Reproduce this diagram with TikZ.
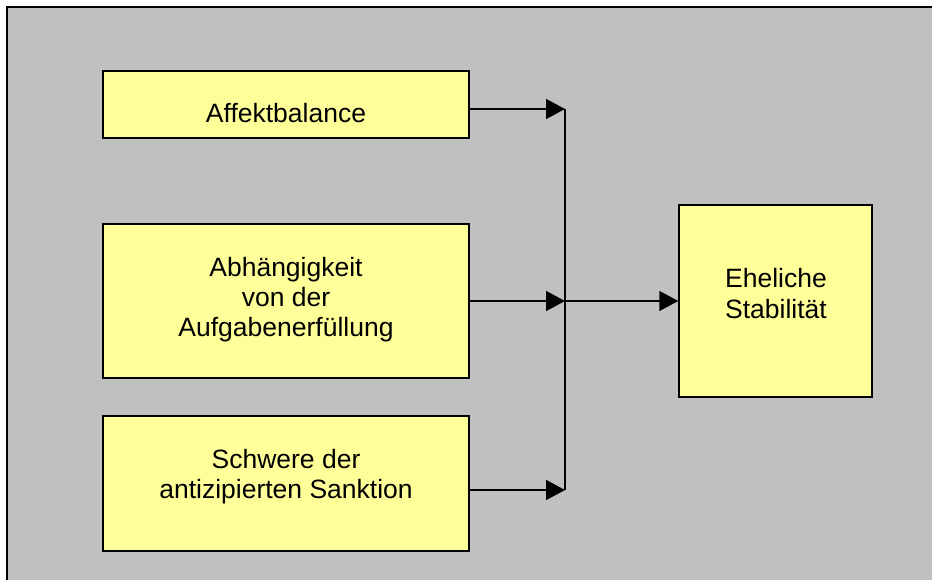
\documentclass[tikz,border=0pt]{standalone}
\usepackage{fontspec}
\setmainfont{Liberation Sans}
\usetikzlibrary{arrows.meta}
\definecolor{bggray}{HTML}{C0C0C0}
\definecolor{boxyellow}{HTML}{FFFF99}
\tikzset{
  factor/.style={draw=black, fill=boxyellow, line width=1.5pt, inner sep=0pt, minimum width=366pt},
  lbl/.style={anchor=base, inner sep=0pt, font=\fontsize{26.5}{30}\selectfont},
  conn/.style={line width=1.5pt, -{Triangle[length=19pt,width=20pt]}},
  bus/.style={line width=1.6pt}
}
\begin{document}
\begin{tikzpicture}[x=1pt,y=-1pt]
\useasboundingbox (0,0) rectangle (932,579);
\fill[white] (0,0) rectangle (932,579);
\begin{scope}
\clip (0,0) rectangle (932,579);
\draw[line width=2pt, fill=bggray] (7,7) rectangle (960,610);
\end{scope}
% boxes
\node[factor, minimum height=67pt] (b1) at (286,104.5) {};
\node[factor, minimum height=154pt] (b2) at (286,301) {};
\node[factor, minimum height=135pt] (b3) at (286,483.5) {};
\node[factor, minimum width=193pt, minimum height=192pt] (out) at (775.5,301) {};
% texts
\node[lbl] (t1) at (286,122) {Affektbalance};
\node[lbl] (t2a) at (286,276) {Abhängigkeit};
\node[lbl] (t2b) at (286,306) {von der};
\node[lbl] (t2c) at (286,336) {Aufgabenerfüllung};
\node[lbl] (t3a) at (286,468) {Schwere der};
\node[lbl] (t3b) at (286,498) {antizipierten Sanktion};
\node[lbl] (t4a) at (776,287) {Eheliche};
\node[lbl] (t4b) at (776,318) {Stabilität};
% junctions
\coordinate (j1) at (565,109);
\coordinate (j2) at (565,301);
\coordinate (j3) at (565,490);
\draw[bus] (j1) -- (j3);
\draw[conn] (b1.east |- j1) -- (j1);
\draw[conn] (b2.east |- j2) -- (j2);
\draw[conn] (b3.east |- j3) -- (j3);
\draw[conn] (j2) -- (out.west |- j2);
\end{tikzpicture}
\end{document}
